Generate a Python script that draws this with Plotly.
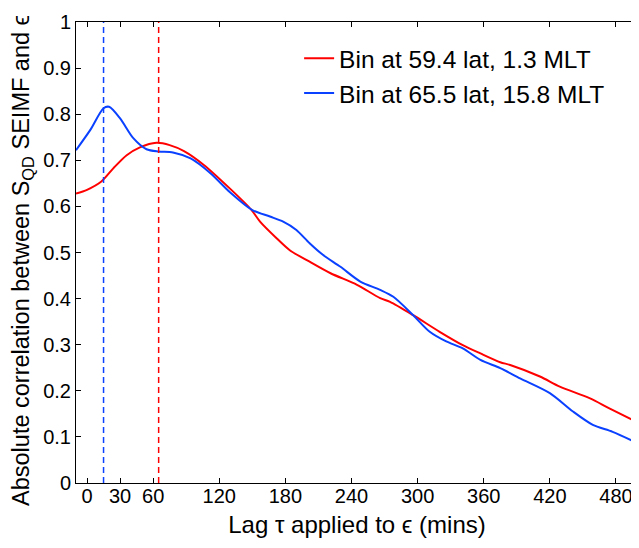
import plotly.graph_objects as go

# Lags (minutes) and absolute correlations
red_lag = [-10, 0, 13, 24, 36, 48, 63, 75, 88, 106, 130, 149, 157, 172, 184, 202,
           221, 245, 266, 275, 296, 320, 341, 357, 375, 384, 411, 429, 456, 474, 500]
red_corr = [0.628, 0.636, 0.654, 0.683, 0.711, 0.728, 0.738, 0.733, 0.720, 0.690,
            0.638, 0.593, 0.567, 0.531, 0.505, 0.480, 0.455, 0.430, 0.401, 0.393,
            0.364, 0.328, 0.299, 0.281, 0.262, 0.256, 0.231, 0.209, 0.184, 0.162, 0.131]

blue_lag = [-10, 3, 15, 20, 30, 42, 54, 65, 78, 94, 112, 130, 150, 166, 178, 190, 202,
            214, 230, 248, 266, 278, 296, 311, 326, 341, 357, 375, 393, 420, 441, 459,
            477, 500]
blue_corr = [0.722, 0.766, 0.813, 0.816, 0.791, 0.748, 0.724, 0.719, 0.717, 0.704,
             0.672, 0.630, 0.592, 0.578, 0.567, 0.549, 0.520, 0.495, 0.469, 0.437,
             0.419, 0.404, 0.364, 0.328, 0.307, 0.292, 0.267, 0.249, 0.227, 0.195,
             0.155, 0.126, 0.111, 0.086]

red_name = "Bin at 59.4 lat, 1.3 MLT"
blue_name = "Bin at 65.5 lat, 15.8 MLT"
red_peak_lag = 65
blue_peak_lag = 15

x_ticks = [0, 30, 60, 120, 180, 240, 300, 360, 420, 480]
y_ticks = [0, 0.1, 0.2, 0.3, 0.4, 0.5, 0.6, 0.7, 0.8, 0.9, 1]
y_ticktext = ["0", "0.1", "0.2", "0.3", "0.4", "0.5", "0.6", "0.7", "0.8", "0.9", "1"]

x_title = "Lag τ applied to ϵ (mins)"
y_title = "Absolute correlation between S<sub>QD</sub> SEIMF and ϵ"

RED = "#ff0000"
BLUE = "#0a40ff"
FONT = "Liberation Sans, Arial, sans-serif"

fig = go.Figure()
fig.add_trace(go.Scatter(x=red_lag, y=red_corr, mode="lines", name=red_name,
                         line=dict(color=RED, width=2, shape="spline", smoothing=0.8),
                         legendgroup="r"))
fig.add_trace(go.Scatter(x=blue_lag, y=blue_corr, mode="lines", name=blue_name,
                         line=dict(color=BLUE, width=2, shape="spline", smoothing=0.8),
                         legendgroup="b"))

fig.add_vline(x=blue_peak_lag, line=dict(color=BLUE, width=1.5, dash="6px,4px"))
fig.add_vline(x=red_peak_lag, line=dict(color=RED, width=1.5, dash="6px,4px"))

axis_common = dict(showline=True, linecolor="black", linewidth=1, mirror="ticks",
                   ticks="inside", ticklen=5, tickcolor="black", showgrid=False,
                   zeroline=False, automargin=False,
                   tickfont=dict(family=FONT, size=20, color="black"))

# Y-axis title as a rotated annotation so it can sit slightly below centre
fig.add_annotation(text=y_title, xref="paper", yref="paper", x=-0.094, y=0.482,
                   xanchor="center", yanchor="middle", textangle=-90, showarrow=False,
                   font=dict(family=FONT, size=23.5, color="black"))

# The page body adds an 8px offset, so the figure is sized to fit the window
fig.update_layout(
    width=631, height=540,
    margin=dict(l=68, r=1, t=14, b=65),
    paper_bgcolor="white", plot_bgcolor="white",
    font=dict(family=FONT, color="black"),
    xaxis=dict(range=[-10, 500], tickvals=x_ticks, ticklabelstandoff=-5,
               title=dict(text=x_title, font=dict(family=FONT, size=24), standoff=10),
               **axis_common),
    yaxis=dict(range=[0, 1], tickvals=y_ticks, ticktext=y_ticktext,
               **axis_common),
    legend=dict(x=0.397, y=0.97, xanchor="left", yanchor="top",
                bgcolor="rgba(0,0,0,0)", font=dict(family=FONT, size=24.5),
                tracegroupgap=0, itemwidth=30),
    showlegend=True,
)

fig.write_html("out.html")
